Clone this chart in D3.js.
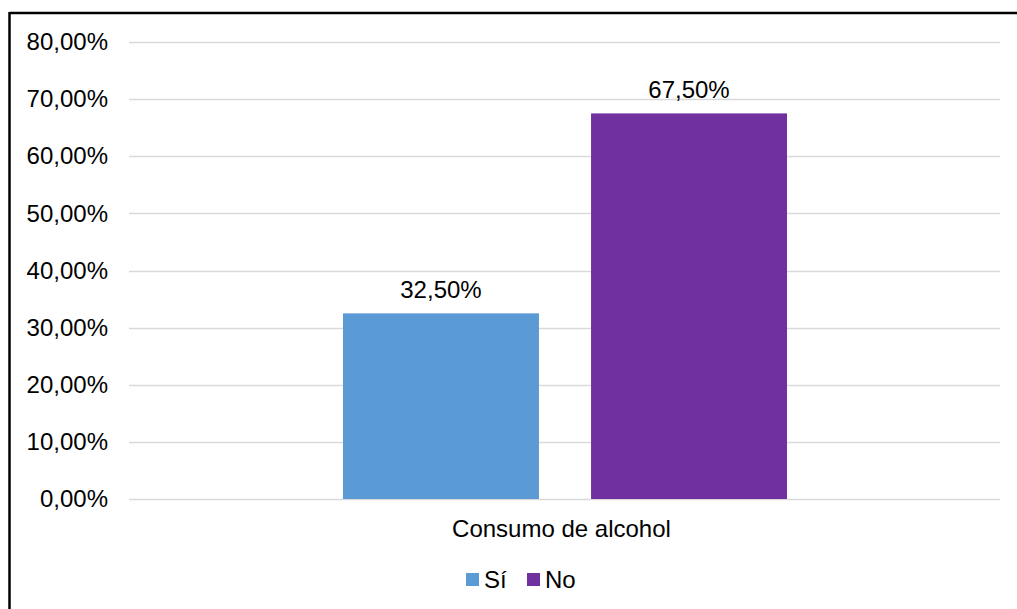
<!DOCTYPE html>
<html>
<head>
<meta charset="utf-8">
<script src="https://cdn.jsdelivr.net/npm/d3@7"></script>
<style>
  html, body { margin: 0; padding: 0; background: #fff; }
  svg { display: block; font-family: "Liberation Sans", Arial, sans-serif; }
</style>
</head>
<body>
<svg id="chart" width="1017" height="609"></svg>
<script>
// Chart data
const categories = ["Consumo de alcohol"];
const seriesNames = ["Sí", "No"];
const seriesValues = [32.5, 67.5];
const seriesColors = ["#5B9BD5", "#7030A0"];
const yTicks = [0, 10, 20, 30, 40, 50, 60, 70, 80];

const fmt = v => v.toFixed(2).replace(".", ",") + "%";
const FONT = "'Liberation Sans', Arial, sans-serif";
const FS = 24;

const svg = d3.select("#chart");

// Outer frame (top and left edges visible)
svg.append("line").attr("x1", 9.5).attr("x2", 1017).attr("y1", 13).attr("y2", 13)
  .attr("stroke", "#000").attr("stroke-width", 2.5);
svg.append("line").attr("x1", 9.5).attr("x2", 9.5).attr("y1", 12).attr("y2", 609)
  .attr("stroke", "#000").attr("stroke-width", 2.5);

const plot = { left: 129, right: 1000, top: 42, bottom: 499 };

const y = d3.scaleLinear().domain([0, 80]).range([plot.bottom, plot.top]);
const x0 = d3.scaleBand().domain(categories).range([plot.left, plot.right]);
const x1 = d3.scaleBand().domain(seriesNames)
  .range([x0(categories[0]) + 214, x0(categories[0]) + x0.bandwidth() - 213])
  .paddingInner(0.21);

// Gridlines
svg.append("g").selectAll("line").data(yTicks).join("line")
  .attr("x1", plot.left).attr("x2", plot.right)
  .attr("y1", d => Math.round(y(d)) + 0.5).attr("y2", d => Math.round(y(d)) + 0.5)
  .attr("stroke", "#d9d9d9").attr("stroke-width", 1.5);

// Y axis labels
const yAxis = d3.axisLeft(y).tickValues(yTicks).tickFormat(fmt).tickSize(0).tickPadding(0);
const gy = svg.append("g").attr("transform", `translate(108,0)`).call(yAxis);
gy.select(".domain").remove();
gy.selectAll("text").attr("font-size", FS).attr("fill", "#000").attr("font-family", FONT);

// Bars with value labels
const bars = svg.append("g");
seriesNames.forEach((name, i) => {
  bars.append("rect")
    .attr("x", x1(name)).attr("width", x1.bandwidth())
    .attr("y", y(seriesValues[i])).attr("height", y(0) - y(seriesValues[i]))
    .attr("fill", seriesColors[i]);
  bars.append("text")
    .attr("x", x1(name) + x1.bandwidth() / 2).attr("y", y(seriesValues[i]) - 15)
    .attr("text-anchor", "middle").attr("font-size", FS).attr("fill", "#000")
    .attr("font-family", FONT)
    .text(fmt(seriesValues[i]));
});

// X axis category label
const xAxis = d3.axisBottom(x0).tickSize(0).tickPadding(0);
const gx = svg.append("g").attr("transform", `translate(-3,${plot.bottom + 21})`).call(xAxis);
gx.select(".domain").remove();
gx.selectAll("text").attr("font-size", FS).attr("fill", "#000").attr("font-family", FONT);

// Legend
const legend = svg.append("g");
const legendX = [466, 527];
seriesNames.forEach((name, i) => {
  legend.append("rect").attr("x", legendX[i]).attr("y", 573).attr("width", 13).attr("height", 13)
    .attr("fill", seriesColors[i]);
  legend.append("text").attr("x", legendX[i] + 18).attr("y", 588)
    .attr("font-size", FS).attr("fill", "#000").attr("font-family", FONT).text(name);
});
</script>
</body>
</html>
